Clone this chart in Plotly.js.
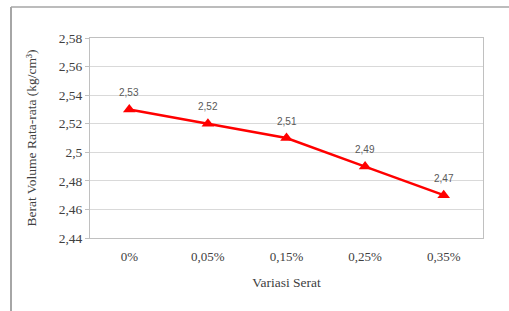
<!DOCTYPE html>
<html>
<head>
<meta charset="utf-8">
<script src="https://cdn.plot.ly/plotly-3.0.1.min.js"></script>
<style>html,body{margin:0;padding:0;background:#fff;}#chart{width:509px;height:311px;}</style>
</head>
<body>
<div id="chart"></div>
<script>
const categories = ["0%", "0,05%", "0,15%", "0,25%", "0,35%"];
const values = [2.53, 2.52, 2.51, 2.49, 2.47];
const valueLabels = ["2,53", "2,52", "2,51", "2,49", "2,47"];
const yTickVals = [2.44, 2.46, 2.48, 2.50, 2.52, 2.54, 2.56, 2.58];
const yTickText = ["2,44", "2,46", "2,48", "2,5", "2,52", "2,54", "2,56", "2,58"];

const serif = "Liberation Serif";
const trace = {
  x: categories,
  y: values,
  type: "scatter",
  mode: "lines+markers",
  line: {color: "#ff0000", width: 2.5},
  marker: {symbol: "triangle-up", size: 11, color: "#ff0000"},
  cliponaxis: false,
  hoverinfo: "none"
};

const annotations = categories.map((c, i) => ({
  x: c, y: values[i], xref: "x", yref: "y",
  text: valueLabels[i], showarrow: false, yshift: 17,
  font: {family: "Liberation Sans", size: 10, color: "#595959"}
}));

const layout = {
  width: 509, height: 311,
  margin: {l: 90, r: 26, t: 38, b: 73},
  paper_bgcolor: "#ffffff", plot_bgcolor: "#ffffff",
  showlegend: false,
  font: {family: serif, size: 12, color: "#404040"},
  xaxis: {
    type: "category",
    range: [-0.5, 4.5],
    showgrid: false,
    showline: true, mirror: true, linecolor: "#c0c0c0", linewidth: 1,
    ticks: "",
    ticklabelstandoff: 6,
    tickfont: {family: serif, size: 13, color: "#404040"},
    title: {text: "Variasi Serat", font: {family: serif, size: 13.5, color: "#404040"}, standoff: 14},
    fixedrange: true
  },
  yaxis: {
    range: [2.44, 2.58],
    tickvals: yTickVals,
    ticktext: yTickText,
    showgrid: true, gridcolor: "#d9d9d9", gridwidth: 1,
    showline: true, mirror: true, linecolor: "#c0c0c0", linewidth: 1,
    ticks: "outside", ticklen: 4, tickcolor: "#c0c0c0",
    tickfont: {family: serif, size: 13.5, color: "#404040"},
    title: {text: "Berat Volume Rata-rata (kg/cm³)", font: {family: serif, size: 13.5, color: "#404040"}, standoff: 18},
    zeroline: false,
    fixedrange: true
  },
  annotations: annotations,
  shapes: [
    {type: "line", xref: "paper", yref: "paper", x0: -0.201, x1: -0.201, y0: -0.4, y1: 1.155,
     line: {color: "#a6a6a6", width: 2}},
    {type: "line", xref: "paper", yref: "paper", x0: -0.201, x1: 1.1, y0: 1.155, y1: 1.155,
     line: {color: "#a6a6a6", width: 1.5}}
  ]
};

Plotly.newPlot("chart", [trace], layout, {staticPlot: true, displayModeBar: false});
</script>
</body>
</html>
